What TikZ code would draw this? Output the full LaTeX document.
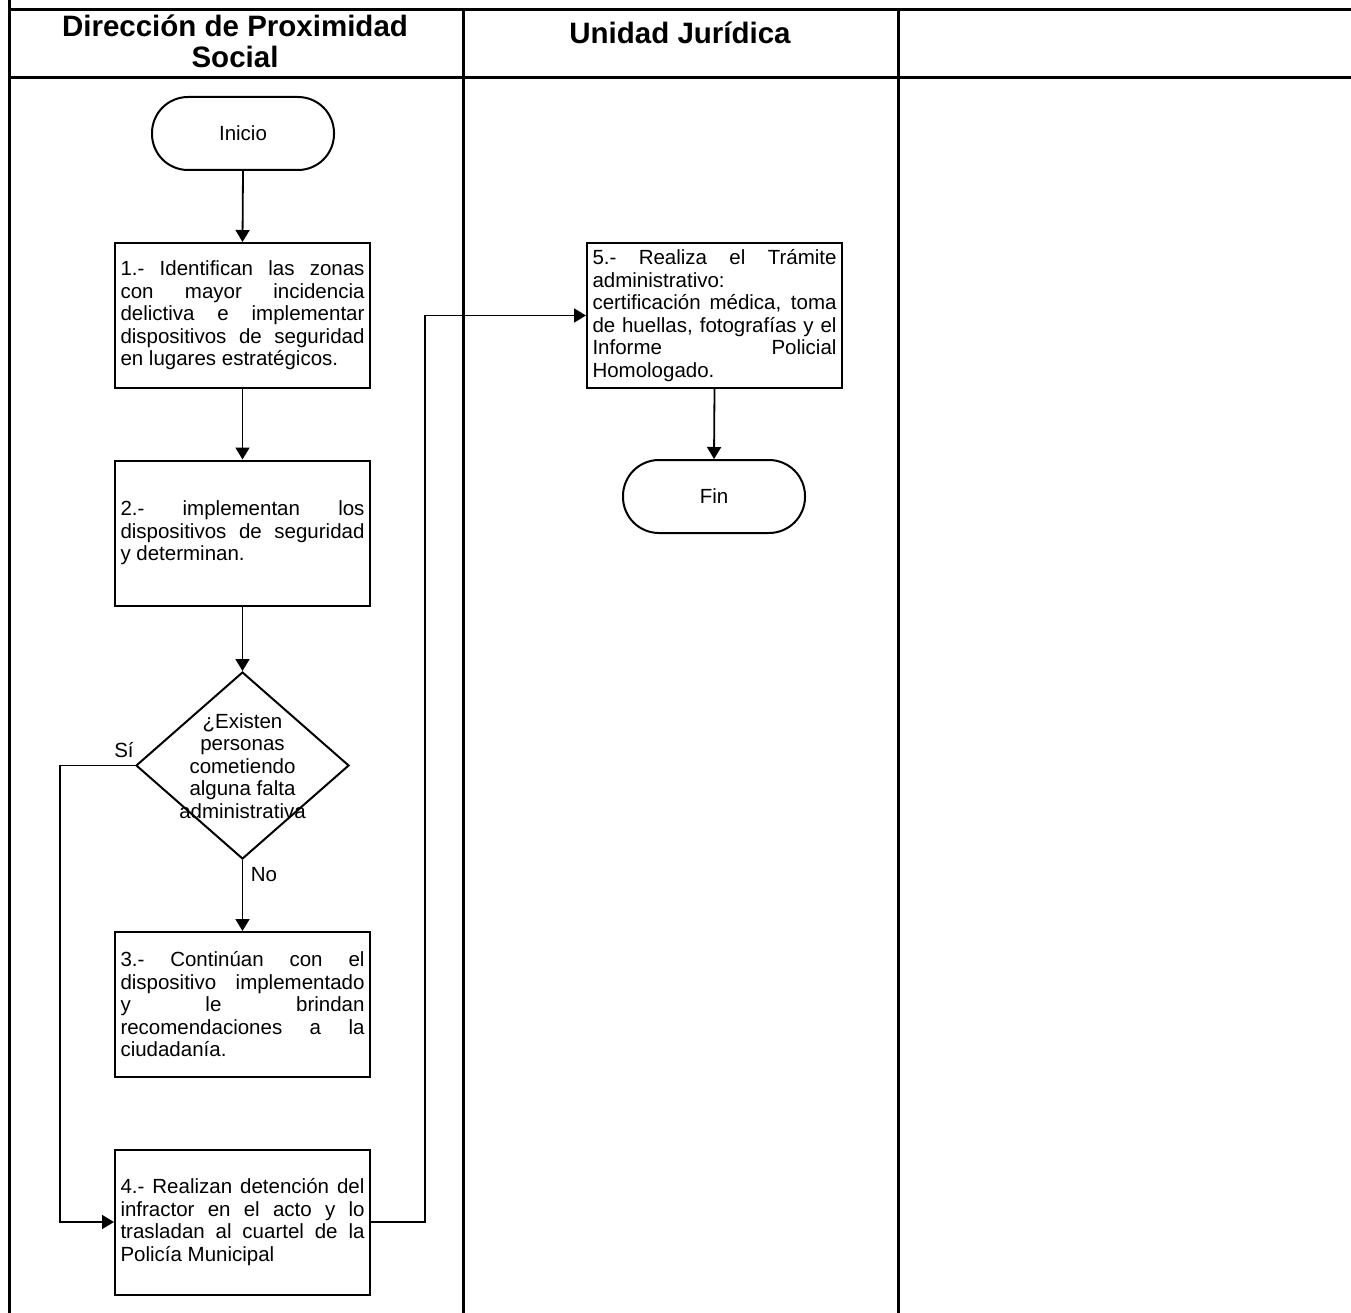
\documentclass[tikz,border=0pt]{standalone}
\usepackage{fontspec}
\setmainfont{Liberation Sans}
\usetikzlibrary{arrows.meta,shapes.geometric}
\tikzset{
  x=1pt,y=-1pt,
  tbl/.style={line width=3pt,line cap=rect},
  body/.style={font=\fontsize{20.5}{22.5}\selectfont},
  hdr/.style={font=\fontsize{29.5}{31}\selectfont\bfseries,align=center},
  proc/.style={draw,line width=2pt,body,minimum width=255pt,minimum height=145pt,
    text width=244pt,inner sep=5.5pt,align=justify,
    execute at begin node={\tolerance=10000\hyphenpenalty=10000\emergencystretch=20pt}},
  term/.style={draw,line width=2pt,body,rounded corners=36pt,minimum width=182pt,minimum height=73pt,inner sep=0pt},
  deci/.style={draw,diamond,line width=2pt,minimum width=213pt,minimum height=187pt,inner sep=0pt},
  conn/.style={line width=1.8pt,-{Triangle[length=12pt,width=14pt]}},
  lbl/.style={body,inner sep=0pt}
}
\begin{document}
\begin{tikzpicture}
\useasboundingbox (0,0) rectangle (1351,1313);
% table
\draw[tbl] (9,0) -- (9,1313);
\draw[tbl] (9,10) -- (1351,10);
\draw[tbl] (9,78) -- (1351,78);
\draw[tbl] (463,10) -- (463,1313);
\draw[tbl] (898,10) -- (898,1313);
\node[hdr,anchor=base] (h1) at (235,68) {Dirección de Proximidad\\Social};
\node[hdr,anchor=base] (h2) at (680,44) {Unidad Jurídica};
% nodes
\node[term] (inicio) at (243,133.5) {Inicio};
\node[proc] (b1) at (242.5,315.5) {1.- Identifican las zonas\linebreak con mayor incidencia\linebreak delictiva e implementar\linebreak dispositivos de seguridad\linebreak en lugares estratégicos.};
\node[proc] (b2) at (242.5,533) {2.- implementan los\linebreak dispositivos de seguridad\linebreak y determinan.};
\node[deci] (dec) at (242.5,765.5) {};
\node[body,align=center,inner sep=0pt] (dectext) at (242.5,766) {¿Existen\\personas\\cometiendo\\alguna falta\\administrativa};
\node[proc] (b3) at (242.5,1004.5) {3.- Continúan con el\linebreak dispositivo implementado\linebreak y le brindan\linebreak recomendaciones a la\linebreak ciudadanía.};
\node[proc] (b4) at (242.5,1222) {4.- Realizan detención del\linebreak infractor en el acto y lo\linebreak trasladan al cuartel de la\linebreak Policía Municipal};
\node[proc] (b5) at (714.5,315.5) {5.- Realiza el Trámite\linebreak administrativo:\\certificación médica, toma\linebreak de huellas, fotografías y el\linebreak Informe Policial\linebreak Homologado.};
\node[term] (fin) at (714,496.5) {Fin};
\node[lbl] (si) at (124,750) {Sí};
\node[lbl] (no) at (264,875) {No};
% connectors
\draw[conn] (inicio.south) -- (b1.north);
\draw[conn] (b1.south) -- (b2.north);
\draw[conn] (b2.south) -- (dec.north);
\draw[conn] (dec.south) -- (b3.north);
\draw[conn] (dec.west) -- ++(-75,0) |- (b4.west);
\draw[conn] (b4.east) -- ++(54,0) |- (b5.west);
\draw[conn] (b5.south) -- (fin.north);
\end{tikzpicture}
\end{document}
